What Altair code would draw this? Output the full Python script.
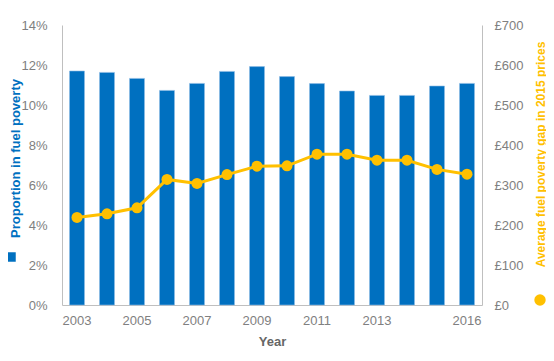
import altair as alt
import pandas as pd

years = [str(y) for y in range(2003, 2017)]
proportion = [0.117, 0.1163, 0.1133, 0.1073, 0.1108, 0.1168, 0.1192, 0.1142,
              0.1107, 0.107, 0.1048, 0.1048, 0.1095, 0.1108]
gap = [219, 228, 243, 314, 304, 326, 347, 348, 377, 377, 362, 362, 339, 327]
shown_years = ["2003", "2005", "2007", "2009", "2011", "2013", "2016"]

df = pd.DataFrame({
    "Year": years,
    "Proportion": proportion,
    "Gap": gap,
    "s1": "Proportion in fuel poverty",
    "s2": "Average fuel poverty gap in 2015 prices",
})

BLUE = "#0070C0"
YELLOW = "#FFC000"
LABEL = "#808080"
DOMAIN = "#BFBFBF"

label_expr = "indexof([" + ",".join("'" + y + "'" for y in shown_years) + "], datum.label) >= 0 ? datum.label : ''"

x_enc = alt.X(
    "Year:O",
    scale=alt.Scale(paddingInner=0.5, paddingOuter=0.25),
    axis=alt.Axis(title="Year", labelAngle=0, labelExpr=label_expr, ticks=False,
                  labelPadding=9, titlePadding=8, titleFontWeight="bold",
                  titleColor="#666666", titleFontSize=13),
)

base = alt.Chart(df)

bars = base.mark_bar(stroke="#8FBCE6", strokeWidth=0.6).encode(
    x=x_enc,
    y=alt.Y("Proportion:Q",
            scale=alt.Scale(domain=[0, 0.14]),
            axis=alt.Axis(title="Proportion in fuel poverty", format=".0%",
                          values=[0, 0.02, 0.04, 0.06, 0.08, 0.10, 0.12, 0.14],
                          ticks=False, labelPadding=15, titleColor=BLUE,
                          titleFontWeight="bold", titleFontSize=13,
                          titleX=-47, titleY=133, titleAlign="center",
                          titleBaseline="middle", titleAngle=-90)),
    color=alt.Color("s1:N", scale=alt.Scale(range=[BLUE]),
                    legend=alt.Legend(title=None, orient="none", legendX=-56, legendY=227,
                                      symbolType="square", symbolSize=90,
                                      labelExpr="''", labelOffset=0, padding=0,
                                      symbolStrokeWidth=0)),
)

right_axis = alt.Axis(title="Average fuel poverty gap in 2015 prices", orient="right",
                      values=[0, 100, 200, 300, 400, 500, 600, 700],
                      labelExpr="'£' + datum.value", ticks=False, labelPadding=12,
                      titleColor=YELLOW, titleFontWeight="bold", titleFontSize=12,
                      titleX=58, titleY=129, titleAlign="center",
                      titleBaseline="middle", titleAngle=-90)

line = base.mark_line(color=YELLOW, strokeWidth=3).encode(
    x=x_enc,
    y=alt.Y("Gap:Q", scale=alt.Scale(domain=[0, 700]), axis=right_axis),
)

points = base.mark_circle(size=121, opacity=1).encode(
    x=x_enc,
    y=alt.Y("Gap:Q", scale=alt.Scale(domain=[0, 700]), axis=right_axis),
    color=alt.Color("s2:N", scale=alt.Scale(range=[YELLOW]),
                    legend=alt.Legend(title=None, orient="none", legendX=472, legendY=269,
                                      symbolType="circle", symbolSize=130,
                                      labelExpr="''", labelOffset=0, padding=0,
                                      symbolStrokeWidth=0)),
)

chart = alt.layer(bars, alt.layer(line, points)).resolve_scale(
    y="independent", color="independent"
).properties(
    width=420, height=280,
    autosize=alt.AutoSizeParams(type="none"),
    padding={"left": 54, "top": 17, "right": 64, "bottom": 48},
).configure(
    font="Liberation Sans",
).configure_view(
    stroke=None,
).configure_axis(
    grid=False,
    domainColor=DOMAIN,
    domainWidth=1,
    labelColor=LABEL,
    labelFontSize=13,
    labelFont="Liberation Sans",
    titleFont="Liberation Sans",
)

chart.save("out.html", embed_options={"renderer": "svg", "actions": False})
